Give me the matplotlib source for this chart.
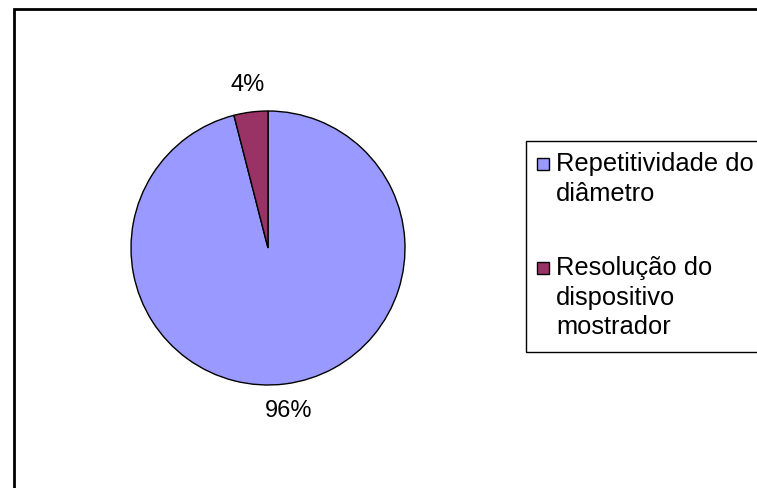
import matplotlib
matplotlib.use('Agg')
import matplotlib.pyplot as plt
from matplotlib.patches import Rectangle

labels = ['Repetitividade do\ndiâmetro', 'Resolução do\ndispositivo\nmostrador']
values = [96, 4]
colors = ['#9999FF', '#993366']

plt.rcParams['font.family'] = ['Liberation Sans', 'DejaVu Sans']

fig = plt.figure(figsize=(7.57, 4.88), dpi=100)
W, H = 757, 488

# outer chart frame (runs off the right and bottom edge)
fig.patches.append(Rectangle((14 / W, -0.1), 1.2, (H - 9) / H + 0.1, transform=fig.transFigure,
                             fill=False, edgecolor='black', linewidth=2))

ax = fig.add_axes([(268 - 137) / W, (H - 248 - 137) / H, 274 / W, 274 / H])
wedges, texts = ax.pie(values, colors=colors, startangle=90, counterclock=False,
                       labels=[f'{v}%' for v in values], labeldistance=1.2,
                       wedgeprops=dict(edgecolor='black', linewidth=1),
                       textprops=dict(fontsize=17))
for t in texts:
    t.set_ha('center')
    t.set_va('center')
ax.set_xlim(-1, 1)
ax.set_ylim(-1, 1)
ax.set_aspect('equal')

# legend box
fig.patches.append(Rectangle((526 / W, (H - 352) / H), 0.5, (352 - 141) / H,
                             transform=fig.transFigure, fill=False,
                             edgecolor='black', linewidth=1))
tops = [152, 256]
for w, lab, y in zip(wedges, labels, tops):
    fig.patches.append(Rectangle((537 / W, 1 - (y + 18) / H), 12 / W, 12 / H,
                                 transform=fig.transFigure, facecolor=w.get_facecolor(),
                                 edgecolor='black', linewidth=1))
    fig.text(556 / W, 1 - y / H, lab, fontsize=18.4, ha='left', va='top', linespacing=1.3)

fig.savefig('out.png', dpi=100)
